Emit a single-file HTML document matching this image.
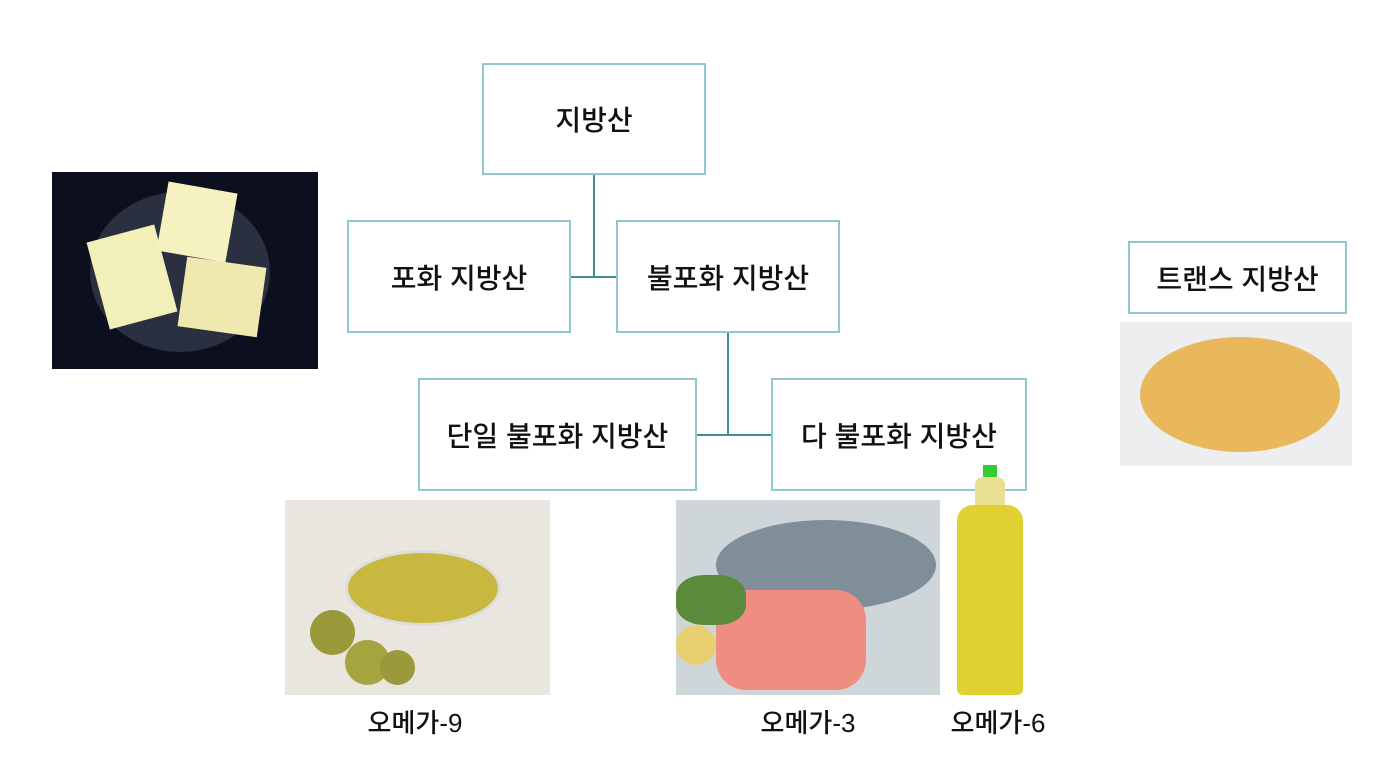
<!DOCTYPE html>
<html><head><meta charset="utf-8"><style>
body{margin:0;width:1390px;height:770px;background:#fff;position:relative;overflow:hidden;font-family:"Liberation Sans","Noto Sans CJK KR",sans-serif;}
.b{position:absolute;border:2px solid #8fc9cc;box-sizing:border-box;display:flex;align-items:center;justify-content:center;font-size:28px;font-weight:500;color:#111;background:#fff}
.l{position:absolute;background:#3f8f95}
.t{position:absolute;font-size:26px;font-weight:500;color:#111;transform:translateX(-50%);white-space:nowrap}
.img{position:absolute}
</style></head><body>
<div class="l" style="left:593px;top:175px;width:2px;height:103px"></div>
<div class="l" style="left:571px;top:276px;width:45px;height:2px"></div>
<div class="l" style="left:727px;top:333px;width:2px;height:103px"></div>
<div class="l" style="left:697px;top:434px;width:74px;height:2px"></div>
<div class="b" style="left:482px;top:63px;width:224px;height:112px">지방산</div>
<div class="b" style="left:347px;top:220px;width:224px;height:113px">포화 지방산</div>
<div class="b" style="left:616px;top:220px;width:224px;height:113px">불포화 지방산</div>
<div class="b" style="left:418px;top:378px;width:279px;height:113px">단일 불포화 지방산</div>
<div class="b" style="left:771px;top:378px;width:256px;height:113px">다 불포화 지방산</div>
<div class="b" style="left:1128px;top:241px;width:219px;height:73px">트랜스 지방산</div>

<div class="img" style="left:52px;top:172px;width:266px;height:197px;background:#0c0f1e">
 <div style="position:absolute;left:38px;top:20px;width:180px;height:160px;border-radius:50%;background:#2a3040"></div>
 <div style="position:absolute;left:45px;top:60px;width:70px;height:90px;background:#f2efb8;transform:rotate(-15deg)"></div>
 <div style="position:absolute;left:110px;top:15px;width:70px;height:70px;background:#f5f1c0;transform:rotate(10deg)"></div>
 <div style="position:absolute;left:130px;top:90px;width:80px;height:70px;background:#efe9b0;transform:rotate(8deg)"></div>
</div>
<div class="img" style="left:285px;top:500px;width:265px;height:195px;background:#e9e6e0">
 <div style="position:absolute;left:60px;top:50px;width:150px;height:70px;border-radius:50%;background:#c9b840;border:3px solid #ddd"></div>
 <div style="position:absolute;left:25px;top:110px;width:45px;height:45px;border-radius:50%;background:#9a9a3a"></div>
 <div style="position:absolute;left:60px;top:140px;width:45px;height:45px;border-radius:50%;background:#a5a540"></div>
 <div style="position:absolute;left:95px;top:150px;width:35px;height:35px;border-radius:50%;background:#9a9a3a"></div>
</div>
<div class="img" style="left:676px;top:500px;width:264px;height:195px;background:#cfd6da">
 <div style="position:absolute;left:40px;top:20px;width:220px;height:90px;border-radius:50%;background:#7f8e98"></div>
 <div style="position:absolute;left:40px;top:90px;width:150px;height:100px;border-radius:30px;background:#ef8e80"></div>
 <div style="position:absolute;left:0px;top:75px;width:70px;height:50px;background:#5a8a3a;border-radius:40%"></div>
 <div style="position:absolute;left:0px;top:125px;width:40px;height:40px;border-radius:50%;background:#e8d070"></div>
</div>
<div class="img" style="left:955px;top:465px;width:70px;height:230px">
 <div style="position:absolute;left:28px;top:0;width:14px;height:12px;background:#3c3"></div>
 <div style="position:absolute;left:20px;top:12px;width:30px;height:30px;background:#e8e090;border-radius:8px 8px 0 0"></div>
 <div style="position:absolute;left:2px;top:40px;width:66px;height:190px;background:#e0d030;border-radius:16px 16px 6px 6px"></div>
</div>
<div class="img" style="left:1120px;top:322px;width:232px;height:144px;background:#eceeef">
 <div style="position:absolute;left:20px;top:15px;width:200px;height:115px;border-radius:50%;background:#e9b75c"></div>
</div>

<div class="t" style="left:415px;top:703px">오메가-9</div>
<div class="t" style="left:808px;top:703px">오메가-3</div>
<div class="t" style="left:998px;top:703px">오메가-6</div>
</body></html>
